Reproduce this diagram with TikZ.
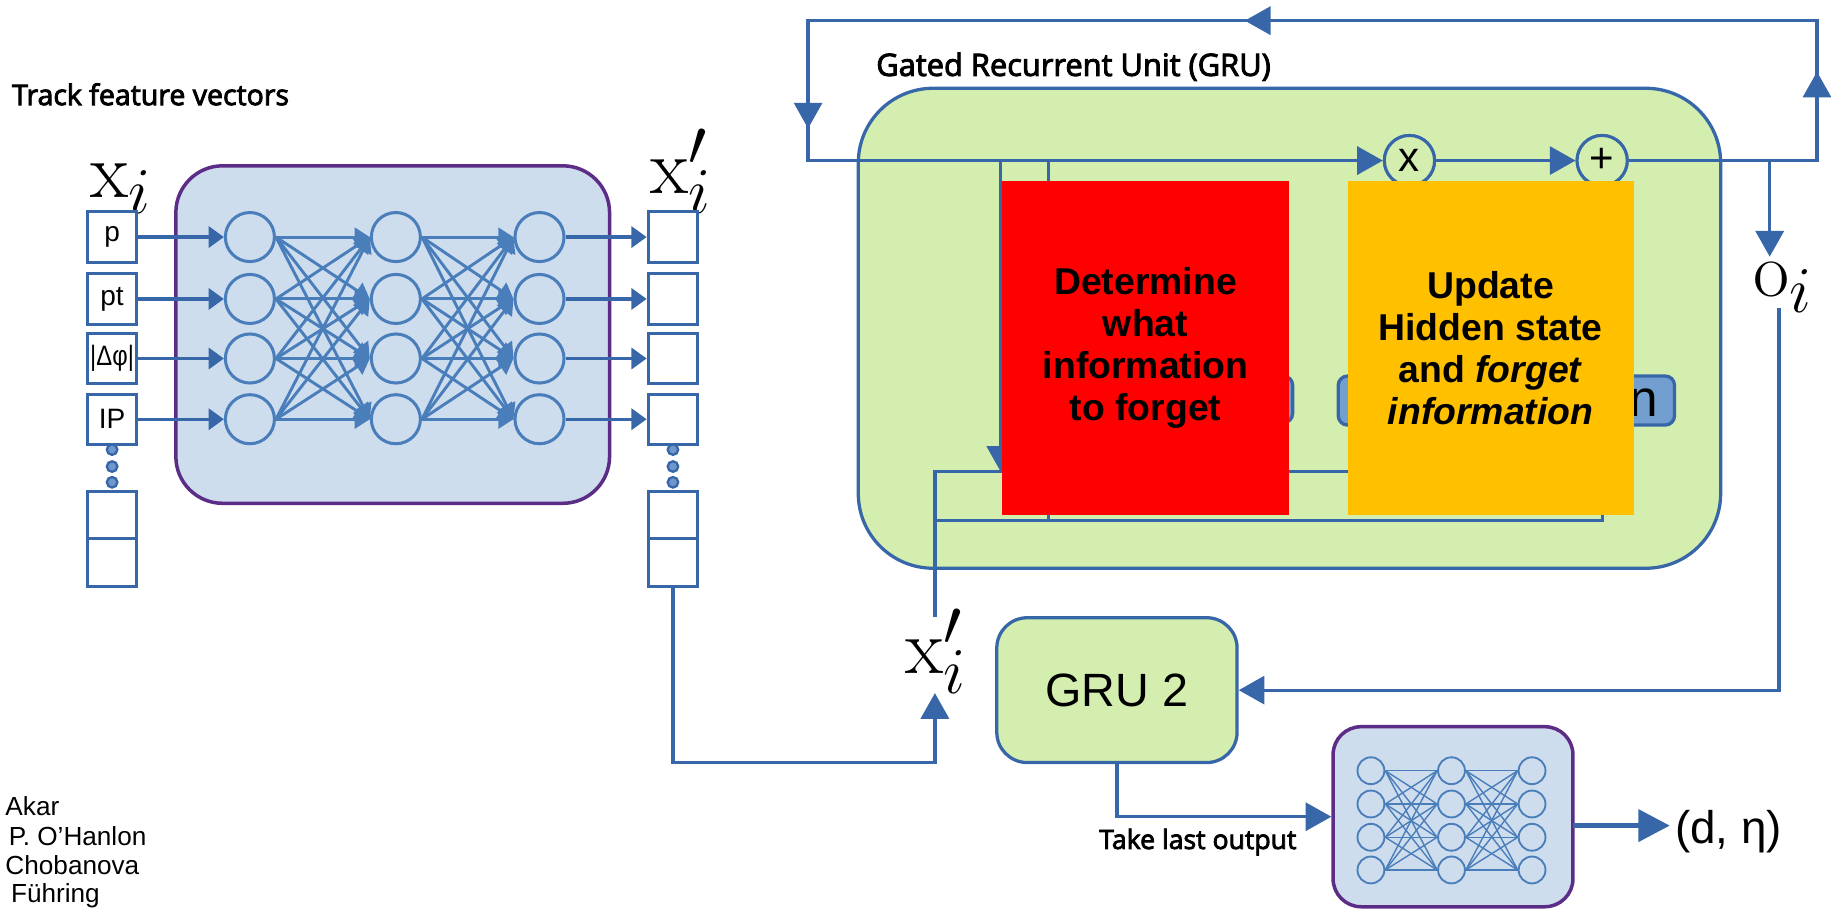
\documentclass[tikz,border=0pt]{standalone}
\usepackage{fontspec}
\usepackage{graphicx}
\usetikzlibrary{arrows.meta}
\newfontfamily\lib{Liberation Sans}
\newfontfamily\opens{Open Sans}[FakeBold=3]
\newcommand{\biglab}[1]{\scalebox{1.35}{\fontsize{24.88}{26}\selectfont$#1$}}
\definecolor{lineblue}{HTML}{3767A8}
\definecolor{nnblue}{HTML}{4A7EBB}
\definecolor{purp}{HTML}{5C2D86}
\definecolor{nnfill}{HTML}{CEDDED}
\definecolor{grufill}{HTML}{D4EEB0}
\definecolor{gold}{HTML}{FFC000}
\definecolor{bbox}{HTML}{729FCF}
\definecolor{dotfill}{HTML}{7097CB}
\begin{document}
\begin{tikzpicture}[x=0.5pt,y=-0.5pt,
  conn/.style={draw=lineblue,line width=1.4pt},
  arr/.style={-{Triangle[length=11pt,width=12pt]}},
  sarr/.style={-{Triangle[length=6.5pt,width=9pt]}},
  narr/.style={-{Triangle[length=6.5pt,width=8pt]}},
  ibox/.style={draw=lineblue,line width=1.3pt,fill=white,minimum width=21.25pt,minimum height=21.5pt,inner sep=0pt,font=\lib\fontsize{12}{12}\selectfont},
  neuron/.style={circle,draw=nnblue,line width=1.3pt,minimum size=21pt,inner sep=0pt},
  mneuron/.style={circle,draw=nnblue,line width=0.8pt,minimum size=11.5pt,inner sep=0pt},
  vdot/.style={circle,draw=lineblue,fill=dotfill,line width=1pt,minimum size=4.5pt,inner sep=0pt},
  nnline/.style={draw=nnblue,line width=1.25pt},
  mline/.style={draw=nnblue,line width=0.6pt},
  lab/.style={inner sep=0pt},
  nnbox/.style={draw=purp,fill=nnfill,line width=1.5pt},
  grubox/.style={draw=lineblue,fill=grufill,line width=1.4pt},
  bluebox/.style={draw=lineblue,fill=bbox,line width=1.4pt,rounded corners=4pt},
  gate/.style={circle,draw=lineblue,fill=grufill,line width=1.3pt,minimum size=21.5pt,inner sep=0pt,font=\lib\fontsize{18}{18}\selectfont},
  note/.style={inner sep=0pt,anchor=base west},
  auth/.style={inner sep=0pt,anchor=base west,font=\lib\fontsize{11.2}{11.2}\selectfont},
]
\useasboundingbox (0,0) rectangle (1568,778);

% ---------- texts on the left ----------
\node[note,font=\opens\fontsize{12.2}{12.2}\selectfont] (tfv) at (10,90) {Track feature vectors};
\node[auth] (au1) at (4.3,698) {Akar};
\node[auth] (au2) at (7.1,724) {P. O’Hanlon};
\node[auth] (au3) at (4.3,749) {Chobanova};
\node[auth] (au4) at (9.1,772.5) {Führing};

% ---------- first network ----------
\node[nnbox,rounded corners=20pt,minimum width=185.7pt,minimum height=144.5pt] (nn) at (336.3,286.5) {};
\node[lab,anchor=base west] (xi) at (77,169) {\biglab{\mathrm{x}_i}};
\node[lab,anchor=base west] (xpi) at (557,166) {\biglab{\mathrm{x}'_i}};

\node[ibox] (in1) at (96,203) {p};
\node[ibox] (in2) at (96,256) {pt};
\node[ibox] (in3) at (96,307) {\scalebox{0.85}[1]{|Δφ|}};
\node[ibox] (in4) at (96,359) {IP};
\node[ibox,minimum height=20.5pt] (inB1) at (96,441) {};
\node[ibox,minimum height=20.5pt] (inB2) at (96,482) {};
\node[ibox] (out1) at (576.3,203) {};
\node[ibox] (out2) at (576.3,256) {};
\node[ibox] (out3) at (576.3,307) {};
\node[ibox] (out4) at (576.3,359) {};
\node[ibox,minimum height=20.5pt] (outB1) at (576.3,441) {};
\node[ibox,minimum height=20.5pt] (outB2) at (576.3,482) {};
\foreach \y [count=\k] in {385,399.5,413} {
  \node[vdot] (dl\k) at (96,\y) {};
  \node[vdot] (dr\k) at (576.3,\y) {};
}

\foreach \y [count=\k] in {203,256,307,359} {
  \node[neuron] (a\k) at (214,\y) {};
  \node[neuron] (b\k) at (339,\y) {};
  \node[neuron] (c\k) at (462,\y) {};
}
\foreach \i in {1,2,3,4} {
  \foreach \j in {1,2,3,4} {
    \draw[nnline,narr] (a\i.east) -- (b\j.west);
    \draw[nnline,narr] (b\i.east) -- (c\j.west);
  }
  \draw[conn,sarr] (in\i.east) -- (a\i.west);
  \draw[conn,sarr] (c\i.east) -- (out\i.west);
}

% ---------- GRU ----------
\node[note,font=\opens\fontsize{13.2}{13.2}\selectfont] (grut) at (750,65) {Gated Recurrent Unit (GRU)};
\node[grubox,rounded corners=32pt,minimum width=369.25pt,minimum height=205.5pt] (gru) at (1104.25,281.1) {};

\coordinate (lpTL) at (692,17.7);
\coordinate (lpTR) at (1556,17.7);
\coordinate (lpBL) at (692,137.5);
\coordinate (lpBR) at (1556,137.5);
\coordinate (upA) at (1556,61.4);
\coordinate (leftA) at (1066,17.7);
\coordinate (downA) at (692,110);

\node[gate] (times) at (1207,137.5) {x};
\node[gate] (plus) at (1372,137.5) {+};

\draw[conn,arr] (plus.east) -- (lpBR) -- (lpTR) -- (lpTL) -- (lpBL) -- (times.west);
\draw[conn,arr] (lpBR) -- (upA);
\draw[conn,arr] (lpTR) -- (leftA);
\draw[conn,arr] (lpTL) -- (downA);
\draw[conn,arr] (times.east) -- (plus.west);

\coordinate (v1t) at (857,137.5);
\coordinate (v1b) at (857,404);
\coordinate (v2t) at (898,137.5);
\coordinate (v2b) at (898,446);
\coordinate (xtop) at (800.6,528);
\coordinate (j404) at (800.6,404);
\coordinate (e404) at (1250,404);
\coordinate (j446) at (800.6,446);
\draw[conn,arr] (v1t) -- (v1b);
\draw[conn] (v2t) -- (v2b);
\draw[conn] (xtop) -- (j404) -- (e404);
\draw[conn] (j446) -| (plus.south);

\node[bluebox,minimum width=118.5pt,minimum height=20pt] (bl) at (988.5,342) {};
\node[bluebox,minimum width=144pt,minimum height=21pt] (br) at (1290,343) {};
\node[inner sep=0pt,anchor=base east,font=\lib\fontsize{22}{22}\selectfont] (brn) at (1420,357) {n};

% gates above the lines
\node[gate] (times2) at (times) {x};
\node[gate] (plus2) at (plus) {+};

\node[fill=red,minimum width=123pt,minimum height=143pt,inner sep=0pt,align=center,font=\lib\bfseries\fontsize{16}{18}\selectfont] (det) at (981,298) {Determine\\what\\information\\to forget};
\node[fill=gold,minimum width=122.5pt,minimum height=143pt,inner sep=0pt,align=center,font=\lib\bfseries\fontsize{16}{18}\selectfont] (upd) at (1276.5,298) {Update\\Hidden state\\and \textit{forget}\\\textit{information}};

% ---------- output of GRU ----------
\coordinate (obr) at (1515.5,137.5);
\coordinate (otip) at (1515.5,219.8);
\draw[conn,arr] (obr) -- (otip);
\node[lab,anchor=base west] (oi) at (1501,254) {\biglab{\mathrm{o}_i}};

\node[grubox,rounded corners=13pt,minimum width=102.9pt,minimum height=62pt,font=\lib\fontsize{20}{20}\selectfont] (gru2) at (956.5,591) {GRU 2};
\coordinate (obot) at (1523.5,264);
\coordinate (ocorner) at (1523.5,591);
\draw[conn,arr] (obot) -- (ocorner) -- (gru2.east);

% ---------- x'_i into GRU ----------
\node[lab,anchor=base west] (xpm) at (775,577) {\biglab{\mathrm{x}'_i}};
\coordinate (xtip) at (800.6,593.5);
\draw[conn,arr] (outB2.south) -- ++(0,149) -| (xtip);

% ---------- final network ----------
\node[nnbox,rounded corners=12pt,minimum width=102.7pt,minimum height=77.1pt] (mini) at (1244.3,699.4) {};
\foreach \y [count=\k] in {660,688.5,717,745} {
  \node[mneuron] (m1\k) at (1174,\y) {};
  \node[mneuron] (m2\k) at (1243,\y) {};
  \node[mneuron] (m3\k) at (1312,\y) {};
}
\foreach \i in {1,2,3,4} \foreach \j in {1,2,3,4} {
  \draw[mline] (m1\i.east) -- (m2\j.west);
  \draw[mline] (m2\i.east) -- (m3\j.west);
}
\draw[conn,arr] (gru2.south) |- (mini.west);
\node[note,font=\opens\fontsize{11.4}{11.4}\selectfont] (tlo) at (941,727) {Take last output};
\coordinate (dstart) at (1347,707);
\coordinate (dtip) at (1430,707);
\draw[lineblue,line width=2.4pt,-{Triangle[length=13.5pt,width=13.5pt]}] (dstart) -- (dtip);
\node[inner sep=0pt,anchor=west,font=\lib\fontsize{19.6}{19.6}\selectfont] (dn) at (1434,712) {(d, η)};
\end{tikzpicture}
\end{document}
